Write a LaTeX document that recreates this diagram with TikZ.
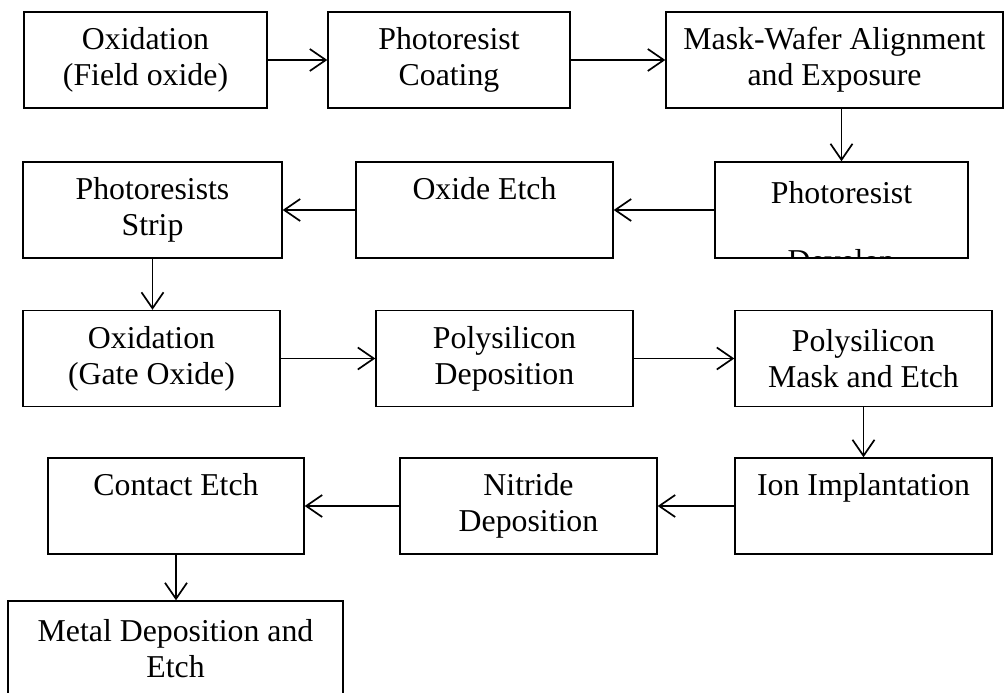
\documentclass[tikz,border=0pt]{standalone}
\usepackage{fontspec}
\setmainfont{Liberation Serif}
\usetikzlibrary{arrows.meta,calc}
\newcommand{\bigtxt}{\fontsize{31.8}{36}\selectfont}
\begin{document}
\begin{tikzpicture}[x=1pt,y=-1pt,
  box/.style={draw, line width=1.4pt, minimum height=96pt, inner sep=0pt, align=center, font=\bigtxt},
  flow/.style={line width=1.7pt, -{Straight Barb[length=16pt,width=22pt,line width=1.7pt]}}]
\clip (0,0) rectangle (1005,693);
\fill[white] (0,0) rectangle (1005,693);
% row 1
\node[box, minimum width=243pt] (A) at (145.5,60) {Oxidation\\(Field oxide)};
\node[box, minimum width=242pt] (B) at (449,60) {Photoresist\\Coating};
\node[box, minimum width=337pt] (C) at (834.5,60) {Mask-Wafer Alignment\\and Exposure};
% row 2
\node[box, minimum width=253pt, path picture={
    \node[anchor=base, font=\bigtxt, inner sep=0pt] (Dt1) at ([yshift=-41pt]path picture bounding box.north) {Photoresist};
    \node[anchor=base, font=\bigtxt, inner sep=0pt] (Dt2) at ([yshift=-109pt]path picture bounding box.north) {Develop};
  }] (D) at (841.5,210) {};
\node[box, minimum width=257pt] (E) at (484.5,210) {Oxide Etch\\\phantom{Ag}};
\node[box, minimum width=259pt] (F) at (152.5,210) {Photoresists\\Strip};
% row 3
\node[box, minimum width=257pt] (G) at (151.5,358.5) {Oxidation\\(Gate Oxide)};
\node[box, minimum width=257pt] (H) at (504.5,358.5) {Polysilicon\\Deposition};
\node[box, minimum width=257pt] (I) at (863.5,358.5) {Polysilicon\\Mask and Etch};
% row 4
\node[box, minimum width=257pt] (J) at (863.5,506) {Ion Implantation\\\phantom{Ag}};
\node[box, minimum width=257pt] (K) at (528.5,506) {Nitride\\Deposition};
\node[box, minimum width=256pt] (L) at (176,506) {Contact Etch\\\phantom{Ag}};
% row 5
\node[box, minimum width=335pt] (M) at (175.5,649) {Metal Deposition and\\Etch};
% connectors
\draw[flow] (A) -- (B);
\draw[flow] (B) -- (C);
\draw[flow] (C.south -| D.north) -- (D.north);
\draw[flow] (D) -- (E);
\draw[flow] (E) -- (F);
\draw[flow] (F.south) -- (F.south |- G.north);
\draw[flow] (G) -- (H);
\draw[flow] (H) -- (I);
\draw[flow] (I) -- (J);
\draw[flow] (J) -- (K);
\draw[flow] (K) -- (L);
\draw[flow] (L.south) -- (L.south |- M.north);
\end{tikzpicture}
\end{document}
